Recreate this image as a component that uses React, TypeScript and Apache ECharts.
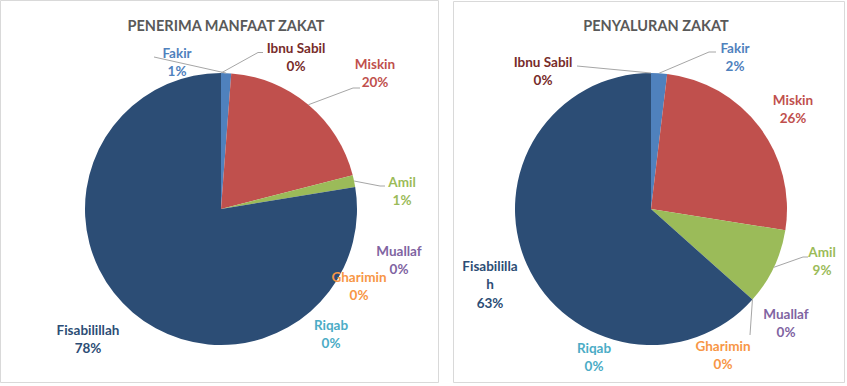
import React, { useEffect, useRef } from 'react';
import * as echarts from 'echarts';

const categories = ['Fakir', 'Miskin', 'Amil', 'Muallaf', 'Gharimin', 'Riqab', 'Fisabilillah', 'Ibnu Sabil'];
const penerimaValues = [1.2, 19.8, 1.4, 0, 0, 0, 77.6, 0];
const penyaluranValues = [1.9, 25.6, 9.1, 0, 0, 0, 63.4, 0];
const titles = ['PENERIMA MANFAAT ZAKAT', 'PENYALURAN ZAKAT'];

const sliceColors = ['#4F81BD', '#C0504D', '#9BBB59', '#8064A2', '#F79646', '#4BACC6', '#2C4D75', '#772C2A'];

// label layout (centre of label block) for each category
const leftLabelPos = [[177, 62], [375, 73], [402, 191], [399, 260], [359, 286], [331, 334], [88, 339], [296, 57]];
const rightLabelPos = [[735, 57], [793, 109], [822, 261], [786, 323], [723, 355], [594, 357], [490, 284], [543, 71]];
// leader-line bend points after the anchor on the slice (null = no leader line)
const leftBends: (number[][] | null)[] = [
  [[154, 57]], [[353, 88], [360, 88]], [[380, 186], [385, 186]], null, null, null, null, [[258, 52.5], [263, 52.5]],
];
const rightBends: (number[][] | null)[] = [
  [[709, 52], [716, 52]], null, [[803, 257], [808, 257]], null, [[750, 335]], null, null, [[577, 66]],
];

const FONT = 'Lato, "Open Sans", sans-serif';
const RADIUS = 136;
const LEFT_CENTER = [221, 209];
const RIGHT_CENTER = [651, 209];

// anchor of a slice's leader line: mid-angle of the slice on its rim
function anchorOf(values: number[], idx: number, center: number[]) {
  const total = values.reduce((a, b) => a + b, 0);
  let cum = 0;
  for (let k = 0; k < idx; k++) cum += values[k];
  const mid = (cum + values[idx] / 2) / total * Math.PI * 2;
  return [center[0] + RADIUS * Math.sin(mid), center[1] - RADIUS * Math.cos(mid)];
}

function leaderLines(values: number[], center: number[], bends: (number[][] | null)[]) {
  const out: any[] = [];
  bends.forEach((b, i) => {
    if (!b) return;
    out.push({
      type: 'polyline',
      z: 10,
      shape: { points: [anchorOf(values, i, center), ...b] },
      style: { stroke: '#A6A6A6', lineWidth: 1, fill: 'none' },
      silent: true,
    });
  });
  return out;
}

function buildSeries(values: number[], center: number[], pos: number[][], wrapFisa: boolean) {
  return {
    type: 'pie',
    center,
    radius: RADIUS,
    startAngle: 90,
    clockwise: true,
    avoidLabelOverlap: false,
    percentPrecision: 4,
    label: {
      show: true,
      position: 'outside',
      fontFamily: FONT,
      fontWeight: 'bold',
      fontSize: 13.5,
      lineHeight: 18.5,
      align: 'center',
      formatter: (p: any) => {
        let n = p.name as string;
        if (wrapFisa && n === 'Fisabilillah') n = 'Fisabililla\nh';
        return `${n}\n${Math.round(p.percent)}%`;
      },
    },
    labelLine: { show: false },
    labelLayout: (params: any) => {
      const p = pos[params.dataIndex];
      return { x: p[0], y: p[1], align: 'center', verticalAlign: 'middle' };
    },
    emphasis: { disabled: true },
    data: categories.map((c, i) => ({
      name: c,
      value: values[i],
      itemStyle: { color: sliceColors[i] },
      label: { color: sliceColors[i] },
    })),
  };
}

export default function App() {
  const ref = useRef<HTMLDivElement>(null);
  useEffect(() => {
    if (!ref.current) return;
    const chart = echarts.init(ref.current, undefined, { renderer: 'svg' });
    chart.setOption({
      animation: false,
      backgroundColor: '#ffffff',
      title: [
        { text: titles[0], left: 221, top: 13, textAlign: 'center', textStyle: { fontFamily: FONT, fontWeight: 'bold', fontSize: 14.5, color: '#595959' } },
        { text: titles[1], left: 651, top: 13, textAlign: 'center', textStyle: { fontFamily: FONT, fontWeight: 'bold', fontSize: 14.5, color: '#595959' } },
      ],
      graphic: [
        { type: 'rect', shape: { x: 0.5, y: 0.5, width: 438, height: 382 }, style: { fill: 'none', stroke: '#D9D9D9', lineWidth: 1 } },
        { type: 'rect', shape: { x: 453.5, y: 1.5, width: 391, height: 381 }, style: { fill: 'none', stroke: '#D9D9D9', lineWidth: 1 } },
        ...leaderLines(penerimaValues, LEFT_CENTER, leftBends),
        ...leaderLines(penyaluranValues, RIGHT_CENTER, rightBends),
      ],
      series: [
        buildSeries(penerimaValues, LEFT_CENTER, leftLabelPos, false),
        buildSeries(penyaluranValues, RIGHT_CENTER, rightLabelPos, true),
      ],
    });
    return () => chart.dispose();
  }, []);
  return <div ref={ref} style={{ position: 'fixed', left: 0, top: 0, width: 847, height: 386 }} />;
}
